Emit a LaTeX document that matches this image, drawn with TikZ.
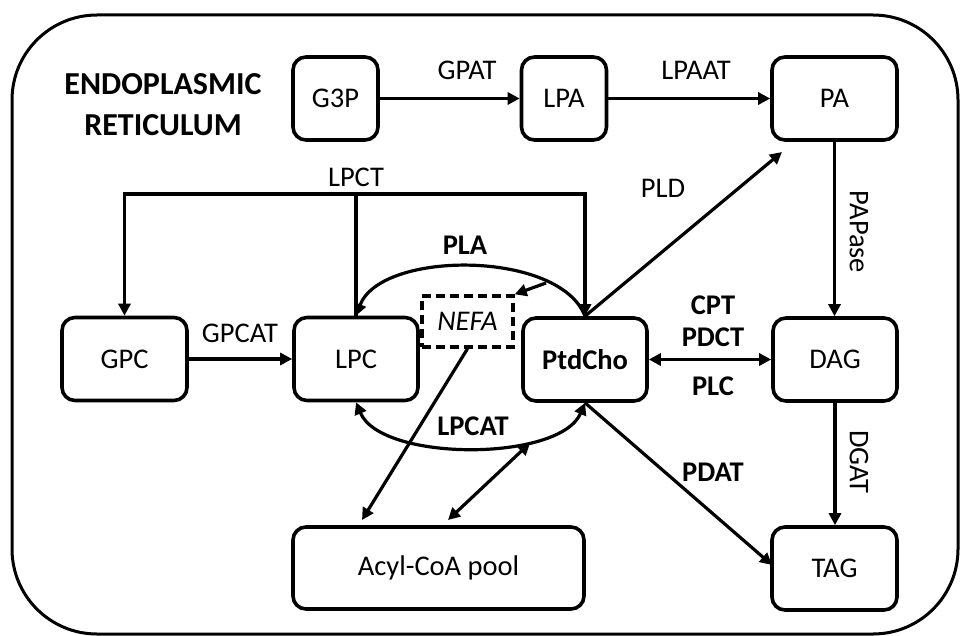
\documentclass[tikz,border=0pt]{standalone}
\usepackage{fontspec}
\setmainfont{Carlito}
\usetikzlibrary{arrows.meta}
\begin{document}
\begin{tikzpicture}[x=1pt,y=-1pt,
  font=\fontsize{28.5}{34}\selectfont,
  box/.style={draw,line width=3.6pt,rounded corners=13pt,minimum height=83pt,inner sep=0pt},
  arr/.style={line width=3.2pt,-{Triangle[length=12pt,width=12pt]}},
  darr/.style={line width=3.2pt,{Triangle[length=12pt,width=12pt]}-{Triangle[length=12pt,width=12pt]}},
  ln/.style={line width=3.2pt},
  lbl/.style={inner sep=0pt},
  blbl/.style={inner sep=0pt,font=\fontsize{28.5}{34}\selectfont\bfseries}]
\useasboundingbox (0,0) rectangle (960,636);
\draw[line width=3pt,rounded corners=85pt] (12,15) rectangle (958,634);
\node[lbl,align=center,font=\fontsize{32}{41}\selectfont\bfseries] (er) at (163,105) {ENDOPLASMIC\\RETICULUM};
% boxes
\node[box,minimum width=85pt] (G3P) at (335.5,98.5) {G3P};
\node[box,minimum width=85pt] (LPA) at (564,98.5) {LPA};
\node[box,minimum width=125pt] (PA) at (834.5,98.5) {PA};
\node[box,minimum width=125pt] (GPC) at (124.5,359) {GPC};
\node[box,minimum width=124pt] (LPC) at (356,359) {LPC};
\node[box,minimum width=124pt,font=\fontsize{28.5}{34}\selectfont\bfseries] (Ptd) at (585,359.5) {PtdCho};
\node[box,minimum width=124pt] (DAG) at (835,359.5) {DAG};
\node[box,minimum width=125pt] (TAG) at (834.5,568.5) {TAG};
\node[box,minimum width=291pt,minimum height=82pt] (Acyl) at (438.5,568) {Acyl-CoA pool};
\node[draw,line width=3.4pt,dash pattern=on 9pt off 5pt,minimum width=91pt,minimum height=51pt,inner sep=0pt,font=\fontsize{28.5}{34}\selectfont\itshape] (NEFA) at (467.5,321.5) {NEFA};
% top row
\draw[arr] (G3P) -- (LPA);
\node[lbl] (gpat) at (467,70) {GPAT};
\draw[arr] (LPA) -- (PA);
\node[lbl] (lpaat) at (696,70) {LPAAT};
% right column
\draw[arr] (PA) -- (PA |- DAG.north);
\node[lbl,rotate=-90] (papase) at (859,232) {PAPase};
\draw[arr] (DAG) -- (DAG |- TAG.north);
\node[lbl,rotate=-90] (dgat) at (859,462) {DGAT};
% GPC -> LPC
\draw[arr] (GPC) -- (LPC);
\node[lbl] (gpcat) at (240,333) {GPCAT};
% LPCT
\coordinate (cL) at (124.5,194);
\coordinate (cM) at (356,194);
\coordinate (cR) at (585,194);
\draw[ln] (LPC.north) -- (cM);
\draw[ln,line cap=rect] (cL) -- (cR);
\draw[arr] (cL) -- (GPC.north);
\draw[arr] (cR) -- (Ptd.north);
\node[lbl] (lpct) at (356,177) {LPCT};
% PLA arc
\draw[arr] (Ptd.north) .. controls (560,250) and (381,250) .. (LPC.north);
\node[blbl] (pla) at (465,245) {PLA};
\coordinate (plaSrc) at (546,283);
\draw[arr] (plaSrc) -- (NEFA.north east);
% LPCAT arc
\draw[darr] (LPC.south) .. controls (381,462) and (560,462) .. (Ptd.south);
\node[blbl] (lpcat) at (473,426) {LPCAT};
\coordinate (lpcatSrc) at (530,443);
\coordinate (acylA) at (448,520);
\draw[darr] (lpcatSrc) -- (acylA);
% NEFA -> Acyl-CoA
\coordinate (acylB) at (362,520);
\draw[arr] (NEFA.south) -- (acylB);
% PLD
\coordinate (pldEnd) at (782,152);
\draw[arr] (Ptd.north) -- (pldEnd);
\node[lbl] (pld) at (663,188) {PLD};
% CPT/PDCT/PLC
\draw[darr] (Ptd.east) -- (DAG.west);
\node[blbl] (cpt) at (713,305) {CPT};
\node[blbl] (pdct) at (713,337) {PDCT};
\node[blbl] (plc) at (713,386) {PLC};
% PDAT
\coordinate (tagIn) at (772,565);
\draw[arr] (Ptd.south) -- (tagIn);
\node[blbl] (pdat) at (713,472) {PDAT};
\end{tikzpicture}
\end{document}
